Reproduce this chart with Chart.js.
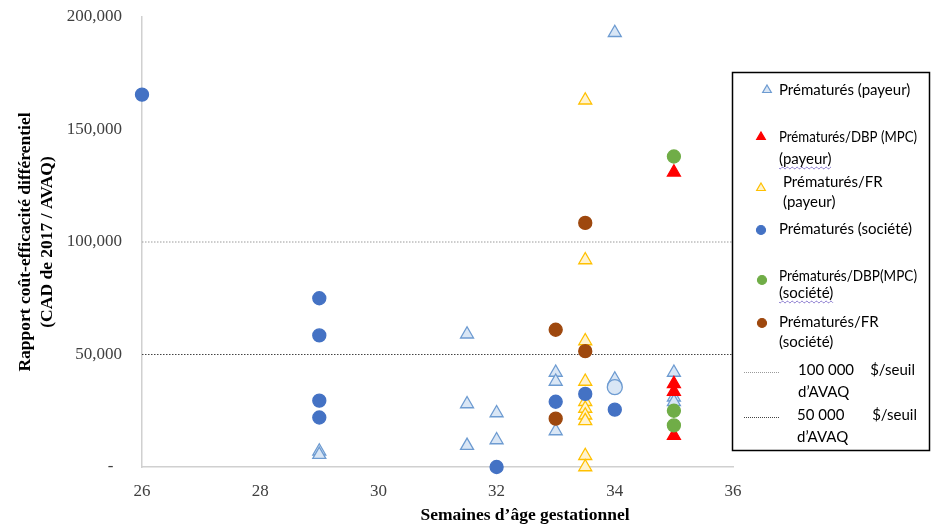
<!DOCTYPE html>
<html>
<head>
<meta charset="utf-8">
<script src="https://cdn.jsdelivr.net/npm/chart.js@4.4.1/dist/chart.umd.min.js"></script>
<style>
  html, body { margin: 0; padding: 0; background: #fff; }
  #wrap { position: relative; width: 937px; height: 527px; }
</style>
</head>
<body>
<div id="wrap"><canvas id="myChart" width="937" height="527"></canvas></div>
<script>
// data
const payeurX = [29, 29, 31.5, 31.5, 31.5, 32, 32, 33, 33, 33, 34, 34, 34, 35, 35, 35];
const payeurY = [7000, 5500, 59000, 28000, 9500, 24000, 12000, 42000, 38000, 16000, 193000, 39000, 35500, 42000, 31000, 29000];

const dbpPayeurX = [35, 35, 35, 35];
const dbpPayeurY = [131000, 37000, 33500, 14000];

const frPayeurX = [33.5, 33.5, 33.5, 33.5, 33.5, 33.5, 33.5, 33.5, 33.5, 33.5];
const frPayeurY = [163000, 92000, 56000, 38000, 29000, 26000, 23000, 20500, 5000, 0];

const societeX = [26, 29, 29, 29, 29, 32, 33, 33.5, 34];
const societeY = [165500, 75000, 58500, 29500, 22000, 0, 29000, 32500, 25500];

const dbpSocieteX = [35, 35, 35];
const dbpSocieteY = [138000, 25000, 18500];

const frSocieteX = [33, 33, 33.5, 33.5];
const frSocieteY = [61000, 21500, 108500, 51500];

const thresholdX = [26, 36];
const thresholds = [100000, 50000];

const xTicks = [26, 28, 30, 32, 34, 36];
const yTicks = [0, 50000, 100000, 150000, 200000];

const xTitle = "Semaines d’âge gestationnel";
const yTitle = ["Rapport coût-efficacité différentiel", "(CAD de 2017 / AVAQ)"];

const labels = [
  "Prématurés (payeur)",
  "Prématurés/DBP (MPC)\n(payeur)",
  "Prématurés/FR\n(payeur)",
  "Prématurés (société)",
  "Prématurés/DBP(MPC)\n(société)",
  "Prématurés/FR\n(société)",
  "100 000\t$/seuil\nd’AVAQ",
  "50 000\t$/seuil\nd’AVAQ",
];

const pts = (xs, ys) => xs.map((x, i) => ({ x: x, y: ys[i] }));

const scatterSet = (label, xs, ys, shape, fill, stroke, order) => ({
  type: "scatter",
  label: label,
  data: pts(xs, ys),
  pointStyle: shape,
  backgroundColor: fill,
  borderColor: stroke,
  pointRadius: shape === "circle" ? 6.5 : 7.5,
  pointBorderWidth: 1.3,
  clip: false,
  order: order,
});

const datasets = [
  scatterSet(labels[0], payeurX, payeurY, (c) => (c.dataIndex === 12 ? "circle" : "triangle"), "#d9e6f5", "#6d9bd1", 7),
  scatterSet(labels[1], dbpPayeurX, dbpPayeurY, "triangle", "#ff0000", "#ff0000", 6),
  scatterSet(labels[2], frPayeurX, frPayeurY, "triangle", "#fff3cf", "#ffc000", 5),
  scatterSet(labels[3], societeX, societeY, "circle", "#4472c4", "#4472c4", 4),
  scatterSet(labels[4], dbpSocieteX, dbpSocieteY, "circle", "#70ad47", "#70ad47", 3),
  scatterSet(labels[5], frSocieteX, frSocieteY, "circle", "#9e480e", "#9e480e", 2),
];

const lineColors = ["#9a9a9a", "#444444"];
thresholds.forEach((t, i) => {
  datasets.push({
    type: "line",
    label: labels[6 + i],
    data: thresholdX.map((x) => ({ x: x, y: t })),
    borderColor: lineColors[i],
    borderWidth: 1,
    borderDash: [1.5, 1.5],
    pointRadius: 0,
    order: 10 + i,
  });
});

// legend layout: marker position, text x, line y's
const legendLayout = [
  { mx: 767, my: 90, tx: 779, ys: [90] },
  { mx: 761, my: 137, tx: 779, ys: [137, 159], wavy: 1 },
  { mx: 761, my: 188, tx: 783, ys: [182, 202] },
  { mx: 761, my: 230, tx: 779, ys: [229] },
  { mx: 762, my: 280, tx: 779, ys: [276, 293], wavy: 1 },
  { mx: 762, my: 323, tx: 779, ys: [322, 342] },
  { mx: 744, my: 372, tx: 798, ys: [370, 392], right: 915 },
  { mx: 744, my: 417, tx: 797, ys: [415, 437], right: 917 },
];

// x title sits off-centre in the original, so it is drawn here
const xTitlePlugin = {
  id: "xTitlePlugin",
  afterDraw(chart) {
    const ctx = chart.ctx;
    ctx.save();
    ctx.font = "bold 17.5px 'Liberation Serif'";
    ctx.fillStyle = "#000";
    ctx.textAlign = "center";
    ctx.textBaseline = "middle";
    ctx.fillText(xTitle, 525, 515);
    ctx.restore();
  },
};

const legendBox = {
  id: "legendBox",
  afterDraw(chart) {
    const ctx = chart.ctx;
    ctx.save();
    ctx.fillStyle = "#fff";
    ctx.fillRect(732, 72, 198, 379);
    ctx.strokeStyle = "#000";
    ctx.lineWidth = 1.5;
    ctx.strokeRect(732.5, 72.5, 197, 378);

    ctx.font = "15px Lato";
    ctx.textBaseline = "middle";
    chart.data.datasets.forEach((ds, i) => {
      const L = legendLayout[i];
      if (ds.type === "line") {
        ctx.strokeStyle = ds.borderColor;
        ctx.lineWidth = 1;
        ctx.setLineDash([1, 1]);
        ctx.beginPath();
        ctx.moveTo(L.mx, L.my + 0.5);
        ctx.lineTo(L.mx + 36, L.my + 0.5);
        ctx.stroke();
        ctx.setLineDash([]);
      } else {
        const shape = typeof ds.pointStyle === "function" ? "triangle" : ds.pointStyle;
        ctx.fillStyle = ds.backgroundColor;
        ctx.strokeStyle = ds.borderColor;
        ctx.lineWidth = 1.2;
        ctx.beginPath();
        if (shape === "triangle") {
          const r = 5;
          ctx.moveTo(L.mx, L.my - r);
          ctx.lineTo(L.mx + r * 0.866, L.my + r * 0.5);
          ctx.lineTo(L.mx - r * 0.866, L.my + r * 0.5);
          ctx.closePath();
        } else {
          ctx.arc(L.mx, L.my, 4.5, 0, Math.PI * 2);
        }
        ctx.fill();
        ctx.stroke();
      }
      ctx.fillStyle = "#000";
      ds.label.split("\n").forEach((line, j) => {
        const parts = line.split("\t");
        ctx.textAlign = "left";
        ctx.fillText(parts[0], L.tx, L.ys[j], 138);
        if (parts.length > 1) {
          ctx.textAlign = "right";
          ctx.fillText(parts[1], L.right, L.ys[j]);
        }
        if (L.wavy && j === 1) {
          const w = ctx.measureText(parts[0]).width;
          ctx.strokeStyle = "#7a68c8";
          ctx.lineWidth = 0.8;
          ctx.beginPath();
          for (let x = 0; x <= w; x += 1) {
            const y = L.ys[j] + 9 + Math.sin(x * 1.3) * 1;
            if (x === 0) ctx.moveTo(L.tx + x, y);
            else ctx.lineTo(L.tx + x, y);
          }
          ctx.stroke();
        }
      });
    });
    ctx.restore();
  },
};

Chart.defaults.font.family = "'Liberation Serif', 'Times New Roman', serif";
Chart.defaults.color = "#404040";

const config = {
  type: "scatter",
  data: { datasets: datasets },
  options: {
    responsive: false,
    animation: false,
    layout: { padding: { top: 17, right: 204, bottom: 0, left: 0 } },
    plugins: {
      legend: { display: false },
      tooltip: { enabled: false },
    },
    scales: {
      x: {
        type: "linear",
        min: 26,
        max: 36,
        afterBuildTicks: (scale) => {
          scale.ticks = xTicks.map((v) => ({ value: v }));
        },
        grid: { display: false, drawTicks: false },
        border: { display: true, color: "#d0d0d0", width: 1.5 },
        ticks: {
          padding: 14,
          font: { size: 17 },
          color: "#404040",
          callback: (v) => v,
        },
        title: { display: false },
        afterFit: (scale) => {
          scale.height = 60;
        },
      },
      y: {
        type: "linear",
        min: 0,
        max: 200000,
        afterBuildTicks: (scale) => {
          scale.ticks = yTicks.map((v) => ({ value: v }));
        },
        grid: { display: false, drawTicks: false },
        border: { display: true, color: "#d0d0d0", width: 1.5 },
        ticks: {
          padding: 20,
          font: { size: 17 },
          color: "#404040",
          callback: (v) => (v === 0 ? "-  " : v.toLocaleString("en-US")),
        },
        title: {
          display: true,
          text: yTitle,
          color: "#000",
          font: { size: 17.5, weight: "bold", lineHeight: 1.28 },
          padding: { top: 14, bottom: 0 },
        },
        afterFit: (scale) => {
          scale.width = 142;
          scale.paddingTop = 0;
          scale.paddingBottom = 0;
        },
      },
    },
  },
  plugins: [legendBox, xTitlePlugin],
};

const myChart = new Chart(document.getElementById("myChart"), config);
</script>
</body>
</html>
